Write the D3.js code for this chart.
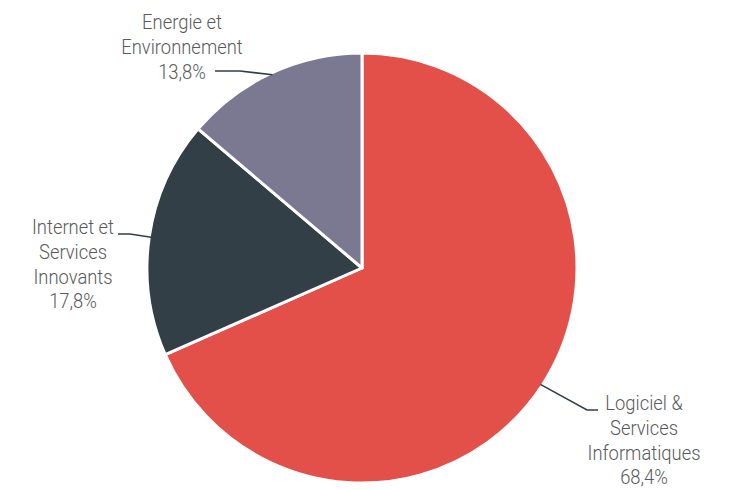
<!DOCTYPE html>
<meta charset="utf-8">
<script src="https://d3js.org/d3.v7.min.js"></script>
<style>
  body { margin: 0; background: #fff; }
  text { font-family: Roboto, "Liberation Sans", sans-serif; font-weight: 300; }
</style>
<div id="my_dataviz"></div>
<script>

// data
var categories = ["Logiciel & Services Informatiques", "Internet et Services Innovants", "Energie et Environnement"];
var values = [68.4, 17.8, 13.8];
var valueLabels = ["68,4%", "17,8%", "13,8%"];
var colors = ["#e3504a", "#323f46", "#7b7891"];

// label lines (text broken in rows) and where they sit
var labelRows = [
  ["Logiciel &", "Services", "Informatiques"],
  ["Internet et", "Services", "Innovants"],
  ["Energie et", "Environnement"]
];
var labelPos = [
  {x: 644, y: 403, elbow: [587, 410], end: [598, 410]},
  {x: 73, y: 227, elbow: [130, 234], end: [118, 234]},
  {x: 182, y: 22, elbow: [240, 71], end: [215, 71]}
];

var width = 732, height = 490,
    cx = 362, cy = 268, radius = 215;

var svg = d3.select("#my_dataviz")
  .append("svg")
    .attr("width", width)
    .attr("height", height);

var g = svg.append("g")
    .attr("transform", "translate(" + cx + "," + cy + ")");

var pie = d3.pie().sort(null).value(function(d) { return d; });
var arcs = pie(values);

var arc = d3.arc().innerRadius(0).outerRadius(radius);

g.selectAll("path.slice")
  .data(arcs)
  .enter()
  .append("path")
    .attr("class", "slice")
    .attr("d", arc)
    .attr("fill", function(d, i) { return colors[i]; })
    .attr("stroke", "#fff")
    .attr("stroke-width", 3)
    .attr("stroke-linejoin", "round");

// leader lines
arcs.forEach(function(d, i) {
  var a = (d.startAngle + d.endAngle) / 2;
  var p0 = [cx + (radius - 2) * Math.sin(a), cy - (radius - 2) * Math.cos(a)];
  var lp = labelPos[i];
  svg.append("polyline")
    .attr("points", [p0, lp.elbow, lp.end].map(function(p) { return p.join(","); }).join(" "))
    .attr("fill", "none")
    .attr("stroke", "#323f46")
    .attr("stroke-width", 1.6);
});

// labels
labelRows.forEach(function(rows, i) {
  var lp = labelPos[i];
  var t = svg.append("text")
    .attr("text-anchor", "middle")
    .attr("fill", "#5a5a5a")
    .attr("transform", "translate(" + lp.x + ",0) scale(0.92,1)")
    .style("font-size", "20px");
  rows.concat([valueLabels[i]]).forEach(function(r, k) {
    t.append("tspan")
      .attr("x", 0)
      .attr("y", lp.y + k * 24.8 + 7)
      .text(r);
  });
});

</script>
